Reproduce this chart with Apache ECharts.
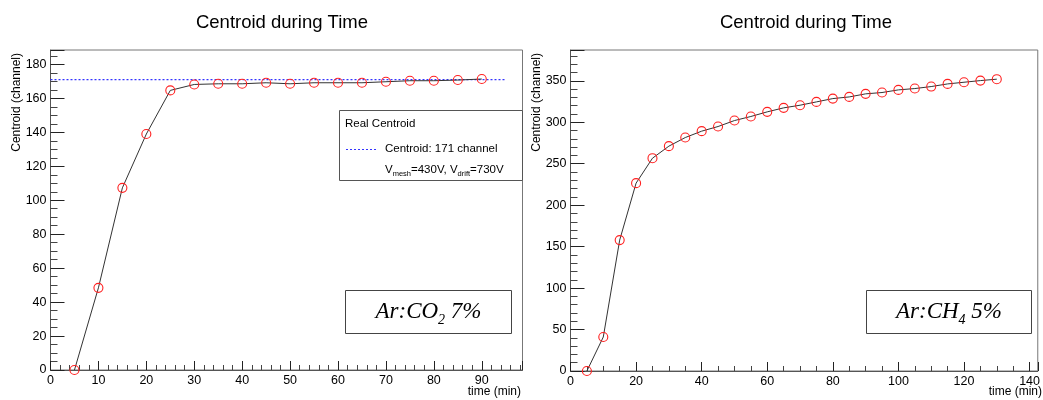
<!DOCTYPE html>
<html>
<head>
<meta charset="utf-8">
<script src="https://cdn.jsdelivr.net/npm/echarts@6/dist/echarts.min.js"></script>
<style>html,body{margin:0;padding:0;background:#fff;}#c{width:1043px;height:400px;}</style>
</head>
<body>
<div id="c"></div>
<script>
// ---- data ----
const timeCO2 = [5,10,15,20,25,30,35,40,45,50,55,60,65,70,75,80,85,90];
const centroidCO2 = [0,48.4,107.3,139,164.7,168.2,168.6,168.6,169.2,168.6,169.2,169.2,169.2,169.8,170.4,170.4,170.8,171.4];
const timeCH4 = [5,10,15,20,25,30,35,40,45,50,55,60,65,70,75,80,85,90,95,100,105,110,115,120,125,130];
const centroidCH4 = [0,41,157.9,226.6,256.7,271.2,281.6,289.3,294.9,302.1,307,312.6,317.4,320.6,324.6,328.6,330.6,334.3,335.9,339.1,340.7,343.1,346.3,348.3,350.3,352];
const realCentroid = 171;
const realLineRange = [0, 95];
const titles = ['Centroid during Time', 'Centroid during Time'];
const xTitle = 'time (min)';
const yTitle = 'Centroid (channel)';
const legendTitle = 'Real Centroid';
const legendEntry = 'Centroid: 171 channel';
const gasLabels = [['Ar:CO', '2', ' 7%'], ['Ar:CH', '4', ' 5%']];

const FONT = '"Liberation Sans", Arial, Helvetica, sans-serif';
const SERIF = '"Liberation Serif", "Times New Roman", serif';

function xAxisCfg(gi, max, interval, minorSplit) {
  return {
    type: 'value', gridIndex: gi, min: 0, max: max, interval: interval,
    axisLine: { show: true, onZero: false, lineStyle: { color: '#555', width: 1 } },
    axisTick: { show: true, inside: true, length: 9, lineStyle: { color: '#222', width: 1 } },
    minorTick: { show: true, splitNumber: minorSplit, length: 5, lineStyle: { color: '#444', width: 1 } },
    axisLabel: { show: true, color: '#000', fontSize: 12.5, fontFamily: FONT, margin: 4,
      formatter: v => (Math.abs(v / interval - Math.round(v / interval)) < 1e-6 ? String(v) : '') },
    splitLine: { show: false }, minorSplitLine: { show: false }
  };
}
function yAxisCfg(gi, max, interval, minorSplit) {
  return {
    type: 'value', gridIndex: gi, min: 0, max: max, interval: interval,
    axisLine: { show: true, onZero: false, lineStyle: { color: '#555', width: 1 } },
    axisTick: { show: true, inside: true, length: 14, lineStyle: { color: '#222', width: 1 } },
    minorTick: { show: true, splitNumber: minorSplit, length: 7, lineStyle: { color: '#444', width: 1 } },
    axisLabel: { show: true, color: '#000', fontSize: 12.5, fontFamily: FONT, margin: 4,
      formatter: v => (Math.abs(v / interval - Math.round(v / interval)) < 1e-6 ? String(v) : '') },
    splitLine: { show: false }, minorSplitLine: { show: false }
  };
}

const markerStyle = { color: 'rgba(0,0,0,0)', borderColor: '#ff2020', borderWidth: 1.1 };

const chart = echarts.init(document.getElementById('c'), null, { renderer: 'canvas' });

function textG(x, y, text, opts) {
  return Object.assign({ type: 'text', x: x, y: y, z: 100,
    style: Object.assign({ text: text, fill: '#000', font: '12px ' + FONT,
      textAlign: 'left', textVerticalAlign: 'middle' }, opts || {}) });
}
const gasRich = {
  n: { fontSize: 23, fontFamily: SERIF, fontStyle: 'italic', lineHeight: 30, fill: '#000' },
  s: { fontSize: 14, fontFamily: SERIF, fontStyle: 'italic', lineHeight: 12, verticalAlign: 'bottom', fill: '#000' }
};

const graphics = [
  textG(282, 23, titles[0], { font: '18.5px ' + FONT, textAlign: 'center' }),
  textG(806, 23, titles[1], { font: '18.5px ' + FONT, textAlign: 'center' }),
  Object.assign(textG(17, 53, yTitle, { textAlign: 'right' }), { rotation: Math.PI / 2 }),
  Object.assign(textG(537, 53, yTitle, { textAlign: 'right' }), { rotation: Math.PI / 2 }),
  textG(521, 392, xTitle, { textAlign: 'right' }),
  textG(1042, 392, xTitle, { textAlign: 'right' }),
  // legend box (left)
  { type: 'rect', z: 90, shape: { x: 339.5, y: 110.5, width: 183, height: 70 },
    style: { fill: '#fff', stroke: '#555', lineWidth: 1 } },
  textG(345, 124, legendTitle, { font: '11.5px ' + FONT }),
  { type: 'line', z: 100, shape: { x1: 346, y1: 149.5, x2: 378, y2: 149.5 },
    style: { stroke: '#3333ff', lineWidth: 1.2, lineDash: [2, 2] } },
  textG(385, 149, legendEntry, { font: '11.5px ' + FONT }),
  textG(385, 170, '{n|V}{s|mesh}{n|=430V, V}{s|drift}{n|=730V}', {
    rich: {
      n: { fontSize: 11.5, fontFamily: FONT, lineHeight: 16, fill: '#000' },
      s: { fontSize: 7.5, fontFamily: FONT, lineHeight: 8, verticalAlign: 'bottom', fill: '#000' }
    }
  }),
  // gas label boxes
  { type: 'rect', z: 90, shape: { x: 345.5, y: 290.5, width: 166, height: 43 },
    style: { fill: '#fff', stroke: '#444', lineWidth: 1 } },
  textG(428.5, 312, '{n|' + gasLabels[0][0] + '}{s|' + gasLabels[0][1] + '}{n|' + gasLabels[0][2] + '}', {
    textAlign: 'center', rich: gasRich
  }),
  { type: 'rect', z: 90, shape: { x: 866.5, y: 290.5, width: 165, height: 43 },
    style: { fill: '#fff', stroke: '#444', lineWidth: 1 } },
  textG(949, 312, '{n|' + gasLabels[1][0] + '}{s|' + gasLabels[1][1] + '}{n|' + gasLabels[1][2] + '}', {
    textAlign: 'center', rich: gasRich
  })
];

const option = {
  animation: false,
  backgroundColor: '#fff',
  grid: [
    { left: 50.5, top: 50, width: 472, height: 320, show: true, borderColor: '#777', borderWidth: 1, backgroundColor: '#fff' },
    { left: 570.5, top: 50, width: 471.5, height: 321, show: true, borderColor: '#777', borderWidth: 1, backgroundColor: '#fff' }
  ],
  xAxis: [ xAxisCfg(0, 98.5, 10, 5), xAxisCfg(1, 142.5, 20, 4) ],
  yAxis: [ yAxisCfg(0, 188.5, 20, 4), yAxisCfg(1, 387.2, 50, 5) ],
  series: [
    { type: 'line', xAxisIndex: 0, yAxisIndex: 0, z: 3,
      data: realLineRange.map(t => [t, realCentroid]),
      showSymbol: false, symbol: 'none',
      lineStyle: { color: '#3333ff', width: 1.2, type: [2, 2] } },
    { type: 'line', xAxisIndex: 0, yAxisIndex: 0, z: 5,
      data: timeCO2.map((t, i) => [t, centroidCO2[i]]),
      symbol: 'circle', symbolSize: 9, itemStyle: markerStyle,
      lineStyle: { color: '#333', width: 1 } },
    { type: 'line', xAxisIndex: 1, yAxisIndex: 1, z: 5,
      data: timeCH4.map((t, i) => [t, centroidCH4[i]]),
      symbol: 'circle', symbolSize: 9, itemStyle: markerStyle,
      lineStyle: { color: '#333', width: 1 } }
  ],
  graphic: graphics
};
chart.setOption(option);
</script>
</body>
</html>
